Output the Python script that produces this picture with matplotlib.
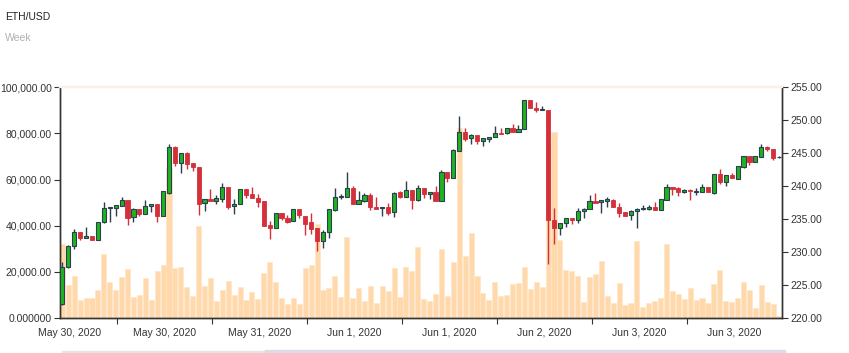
import matplotlib
matplotlib.use("Agg")
import matplotlib.pyplot as plt
from matplotlib.patches import Rectangle
from matplotlib.ticker import FuncFormatter, FixedLocator
import numpy as np

plt.rcParams['font.family'] = ['Liberation Sans', 'DejaVu Sans']

# ---- data (one candle per slot) ----
opens = [222.1, 227.7, 230.9, 233.0, 232.1, 232.45, 231.8, 234.5, 236.7, 236.7,
         237.05, 237.9, 235.3, 236.5, 235.8, 237.05, 237.3, 235.4, 239.0, 245.9,
         243.5, 245.0, 243.5, 242.9, 237.4, 238.0, 237.8, 238.05, 239.8, 237.0,
         237.3, 239.6, 238.8, 238.2, 237.7, 234.1, 233.7, 235.9, 235.2, 234.65,
         236.5, 235.55, 234.5, 233.6, 231.7, 233.1, 236.45, 238.3, 238.4, 239.7,
         237.35, 237.8, 238.6, 236.9, 236.65, 236.9, 236.05, 239.05, 238.4, 239.4,
         237.9, 239.7, 238.8, 239.1, 237.8, 242.1, 241.2, 245.4, 248.2, 247.3,
         247.7, 246.9, 247.2, 247.5, 248.1, 248.0, 248.8, 248.2, 248.6, 253.0,
         251.9, 251.5, 251.6, 234.8, 233.6, 234.4, 235.1, 234.8, 236.3, 236.5,
         237.8, 237.55, 237.8, 237.9, 236.9, 236.05, 235.6, 236.2, 236.6, 236.6,
         236.9, 236.4, 237.9, 239.9, 239.7, 239.05, 239.4, 239.05, 239.05, 239.85,
         239.0, 241.8, 240.65, 241.7, 241.15, 242.9, 244.6, 243.65, 244.5, 245.95,
         245.6, 244.35]
highs = [228.45, 231.0, 233.5, 233.0, 233.8, 232.5, 234.6, 237.65, 236.9, 237.1,
         238.4, 237.9, 236.7, 236.5, 237.9, 237.3, 237.3, 239.3, 246.4, 246.1,
         245.0, 245.2, 243.5, 242.9, 238.0, 239.5, 238.7, 240.5, 239.8, 238.0,
         239.6, 239.6, 239.8, 238.8, 237.8, 234.7, 235.9, 235.9, 235.6, 236.5,
         236.5, 235.55, 236.0, 233.6, 233.3, 236.6, 239.7, 238.8, 242.1, 240.1,
         239.2, 239.0, 239.0, 238.3, 236.9, 237.4, 239.1, 239.2, 240.8, 239.4,
         240.2, 239.7, 239.1, 240.0, 242.5, 242.1, 245.6, 250.7, 248.9, 247.9,
         247.7, 247.3, 247.5, 249.2, 248.9, 248.8, 249.4, 249.3, 253.1, 253.1,
         252.8, 252.2, 251.6, 236.7, 234.4, 235.2, 235.1, 236.7, 236.7, 238.7,
         239.0, 237.9, 238.3, 238.0, 237.4, 236.1, 236.4, 236.75, 237.1, 237.1,
         237.55, 238.0, 240.4, 239.9, 239.8, 239.5, 239.6, 239.7, 240.3, 239.85,
         241.8, 242.6, 241.7, 241.95, 243.1, 244.6, 244.6, 244.6, 246.4, 246.15,
         245.6, 244.6]
lows = [222.0, 227.6, 230.5, 231.8, 232.1, 231.8, 231.8, 234.4, 234.6, 235.5,
        237.0, 234.1, 234.6, 235.4, 235.8, 236.1, 234.5, 235.4, 238.8, 243.0,
        242.0, 242.6, 242.3, 235.7, 236.3, 237.8, 237.3, 237.55, 236.6, 235.8,
        237.3, 238.2, 238.2, 236.8, 234.0, 232.0, 233.7, 234.9, 234.4, 234.65,
        235.2, 232.65, 232.7, 230.1, 230.6, 232.2, 236.3, 238.1, 238.3, 237.3,
        237.3, 237.6, 236.4, 236.6, 235.5, 235.7, 235.3, 238.2, 238.3, 236.5,
        237.8, 238.2, 238.0, 237.8, 237.7, 240.7, 241.2, 245.4, 246.9, 246.35,
        246.4, 246.05, 246.7, 247.4, 247.9, 247.9, 248.2, 248.2, 248.6, 251.8,
        251.2, 251.5, 228.2, 231.2, 232.6, 233.85, 234.3, 234.45, 235.1, 236.5,
        237.5, 236.0, 236.9, 236.9, 235.3, 235.5, 234.9, 233.7, 236.4, 236.4,
        236.4, 236.4, 237.9, 238.7, 238.5, 239.0, 237.9, 238.6, 239.05, 239.05,
        238.8, 240.3, 240.1, 241.2, 241.15, 242.7, 243.2, 243.65, 244.4, 245.4,
        243.9, 244.3]
closes = [227.8, 230.9, 233.05, 232.1, 232.4, 231.8, 234.55, 236.7, 236.84, 237.1,
          237.9, 235.1, 236.5, 235.8, 237.05, 237.3, 235.4, 239.3, 245.9, 243.5,
          245.0, 243.4, 242.9, 237.35, 238.0, 237.8, 238.2, 239.8, 236.9, 237.35,
          239.6, 238.7, 238.2, 237.55, 234.0, 233.7, 235.9, 235.1, 234.6, 236.5,
          235.6, 234.3, 233.5, 231.7, 233.1, 236.5, 238.3, 238.5, 239.7, 237.35,
          237.9, 238.6, 236.8, 236.6, 236.9, 235.9, 239.0, 238.4, 239.4, 237.9,
          239.7, 238.8, 239.1, 237.8, 242.1, 241.2, 245.5, 248.2, 247.2, 247.7,
          246.9, 247.3, 247.5, 248.1, 247.9, 248.8, 248.2, 248.6, 253.0, 251.8,
          251.5, 251.6, 234.8, 233.7, 234.4, 235.2, 234.8, 236.3, 236.6, 237.8,
          237.5, 237.85, 238.0, 236.9, 235.95, 235.55, 236.3, 236.6, 236.75, 236.9,
          236.4, 238.0, 239.9, 239.6, 239.1, 239.4, 239.2, 239.2, 239.8, 239.05,
          241.8, 240.6, 241.7, 241.2, 243.1, 244.6, 243.6, 244.6, 245.95, 245.6,
          244.3, 244.5]
volumes = [32000, 14300, 18200, 7950, 8500, 8500, 12100, 27600, 15750, 12000,
           17800, 21400, 9250, 10000, 17300, 7650, 20500, 23000, 65000, 21700,
           22000, 13400, 9500, 39700, 13900, 17200, 7400, 12300, 15900, 10000,
           13400, 7800, 11100, 8200, 19700, 24400, 15600, 8700, 6200, 8500,
           6200, 21500, 23100, 40600, 12300, 13200, 18000, 9100, 35200, 8700,
           12900, 7400, 13700, 6500, 13900, 11700, 21700, 8900, 22000, 20500,
           30900, 8400, 7400, 10500, 29800, 9500, 24100, 82200, 26700, 36700,
           18000, 10800, 7800, 15600, 9500, 10000, 14600, 15100, 22200, 12600,
           15600, 13400, 77900, 80800, 33800, 20700, 20500, 18200, 6900, 17600,
           19200, 24700, 9500, 6500, 15300, 5600, 6500, 33200, 4800, 6500,
           7200, 8500, 31900, 11600, 10600, 8200, 13200, 7800, 8700, 6600,
           14900, 20700, 7400, 7000, 8500, 15400, 12300, 4500, 14300, 6900,
           6200, 870]
date_labels = ["May 30, 2020", "May 30, 2020", "May 31, 2020", "Jun 1, 2020",
               "Jun 1, 2020", "Jun 2, 2020", "Jun 3, 2020", "Jun 3, 2020"]

o = np.array(opens); h = np.array(highs); l = np.array(lows); c = np.array(closes)
x = np.arange(len(o))
up = c >= o

fig = plt.figure(figsize=(8.49, 3.53), dpi=100)
ax = fig.add_axes([60 / 849, 35 / 353, (782.3 - 60) / 849, (318 - 87.3) / 353])
ax2 = ax.twinx()

# volume on the left axis
ax.bar(x, volumes, width=0.86, color='#ffd9ab', edgecolor='#ffe6c8', linewidth=0.5, zorder=1)
ax.set_ylim(0, 100000)
ax.set_yticks(np.arange(0, 100001, 20000))
ax.yaxis.set_major_formatter(FuncFormatter(lambda v, p: "0.000000" if v == 0 else "{:,.2f}".format(v)))

# candles on the right axis
dark = '#2c3e50'
green = '#1db41d'
red = '#d3303a'
wick_col = [dark if u else red for u in up]
ax2.vlines(x, l, h, colors=wick_col, linewidth=1.0, zorder=2)
body_bot = np.minimum(o, c)
body_h = np.maximum(np.abs(c - o), 0.15)
ax2.bar(x[up], body_h[up], bottom=body_bot[up], width=0.7, color=green,
        edgecolor=dark, linewidth=0.8, zorder=3)
ax2.bar(x[~up], body_h[~up], bottom=body_bot[~up], width=0.7, color=red,
        edgecolor=red, linewidth=0.6, zorder=3)
ax2.set_ylim(220, 255)
ax2.set_yticks(np.arange(220, 256, 5))
ax2.yaxis.set_major_formatter(FuncFormatter(lambda v, p: "{:.2f}".format(v)))

ax.set_xlim(-0.4, 121.55)
tick_pos = [9.2 + 16.03 * k for k in range(7)]
label_pos = [1.2 + 16.03 * k for k in range(8)]
ax.xaxis.set_major_locator(FixedLocator(tick_pos))
ax.xaxis.set_minor_locator(FixedLocator(label_pos))
ax.set_xticklabels([""] * len(tick_pos))
ax.set_xticklabels(date_labels, minor=True)

for a in (ax, ax2):
    for s in ('left', 'right', 'bottom'):
        a.spines[s].set_color('#333333')
        a.spines[s].set_linewidth(1.0)
    a.spines['top'].set_color('#fcefe6')
    a.spines['top'].set_linewidth(1.6)
ax.tick_params(axis='y', length=4, width=0.8, color='#333333', labelsize=7.5,
               labelcolor='#333333', pad=2)
ax2.tick_params(axis='y', length=4, width=0.8, color='#333333', labelsize=7.5,
                labelcolor='#333333', pad=2)
ax.tick_params(axis='x', which='major', length=4, width=0.8, color='#333333')
ax.tick_params(axis='x', which='minor', length=0, labelsize=7.5, labelcolor='#333333', pad=7)

fig.text(5 / 849, 1 - 17 / 353, "ETH/USD", fontsize=7.5, color='#222222', va='center')
fig.text(5 / 849, 1 - 38 / 353, "Week", fontsize=7.5, color='#b0b0b0', va='center')

# scroller strip at the very bottom
fig.patches.append(Rectangle((62 / 849, 0), (265 - 62) / 849, 2.5 / 353,
                             transform=fig.transFigure, color='#e4e4e4', figure=fig))
fig.patches.append(Rectangle((265 / 849, 0), (785 - 265) / 849, 3 / 353,
                             transform=fig.transFigure, color='#dadde6', figure=fig))

fig.savefig("out.png", dpi=100)
